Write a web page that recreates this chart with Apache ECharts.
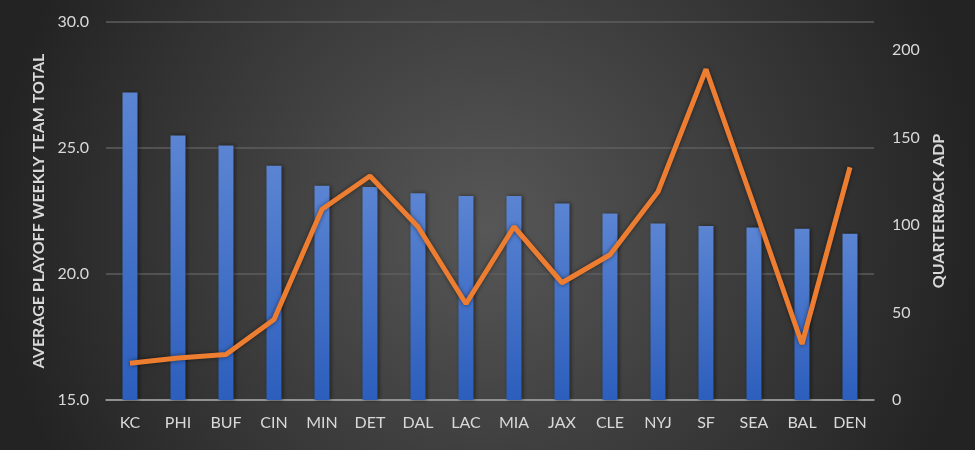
<!DOCTYPE html>
<html>
<head>
<meta charset="utf-8">
<script src="https://cdn.jsdelivr.net/npm/echarts@6/dist/echarts.min.js"></script>
<style>
  html, body { margin: 0; padding: 0; }
  #main { width: 975px; height: 450px; }
</style>
</head>
<body>
<div id="main"></div>
<script>
var teams = ['KC', 'PHI', 'BUF', 'CIN', 'MIN', 'DET', 'DAL', 'LAC', 'MIA', 'JAX', 'CLE', 'NYJ', 'SF', 'SEA', 'BAL', 'DEN'];
var teamTotals = [27.2, 25.5, 25.1, 24.3, 23.5, 23.45, 23.2, 23.1, 23.1, 22.8, 22.4, 22.0, 21.9, 21.85, 21.8, 21.6];
var qbAdp = [21, 24, 26, 46, 109, 128, 99, 55, 99, 67, 83, 119, 189, 111, 32, 133];

var textColor = '#d9d9d9';
var fontFamily = 'Lato, "Open Sans", sans-serif';

var myChart = echarts.init(document.getElementById('main'));
var option = {
  backgroundColor: {
    type: 'radial', x: 0.5, y: 0.5, r: 1.1,
    colorStops: [
      { offset: 0, color: '#575757' },
      { offset: 1, color: '#232323' }
    ]
  },
  textStyle: { fontFamily: fontFamily },
  animation: false,
  grid: { left: 106, right: 101, top: 22, bottom: 50 },
  xAxis: {
    type: 'category',
    data: teams,
    axisLine: { lineStyle: { color: '#a6a6a6', width: 1.5 } },
    axisTick: { show: false },
    axisLabel: { color: textColor, fontSize: 16, margin: 15 }
  },
  yAxis: [{
    type: 'value',
    min: 15, max: 30, interval: 5,
    name: 'AVERAGE PLAYOFF WEEKLY TEAM TOTAL',
    nameLocation: 'middle',
    nameGap: 58,
    nameTextStyle: { color: textColor, fontSize: 16, fontWeight: 'bold' },
    axisLabel: {
      color: textColor, fontSize: 16, margin: 17,
      formatter: function (v) { return v.toFixed(1); }
    },
    splitLine: { lineStyle: { color: '#5e5e5e', width: 1.5 } }
  }, {
    type: 'value',
    min: 0, max: 216, interval: 50,
    name: 'QUARTERBACK ADP',
    nameLocation: 'middle',
    nameGap: 56,
    nameTextStyle: { color: textColor, fontSize: 16, fontWeight: 'bold' },
    axisLabel: { color: textColor, fontSize: 16, margin: 18, showMaxLabel: false },
    splitLine: { show: false }
  }],
  series: [{
    type: 'bar',
    data: teamTotals,
    barWidth: 15,
    itemStyle: {
      color: new echarts.graphic.LinearGradient(0, 0, 0, 1, [
        { offset: 0, color: '#5b85d3' },
        { offset: 1, color: '#2c5ebc' }
      ]),
      shadowBlur: 4,
      shadowColor: 'rgba(0,0,0,0.5)',
      shadowOffsetX: 1
    }
  }, {
    type: 'line',
    yAxisIndex: 1,
    data: qbAdp,
    symbol: 'none',
    lineStyle: {
      color: '#ed7d31', width: 5,
      shadowBlur: 4, shadowColor: 'rgba(0,0,0,0.5)'
    },
    itemStyle: { color: '#ed7d31' }
  }]
};
myChart.setOption(option);
</script>
</body>
</html>
